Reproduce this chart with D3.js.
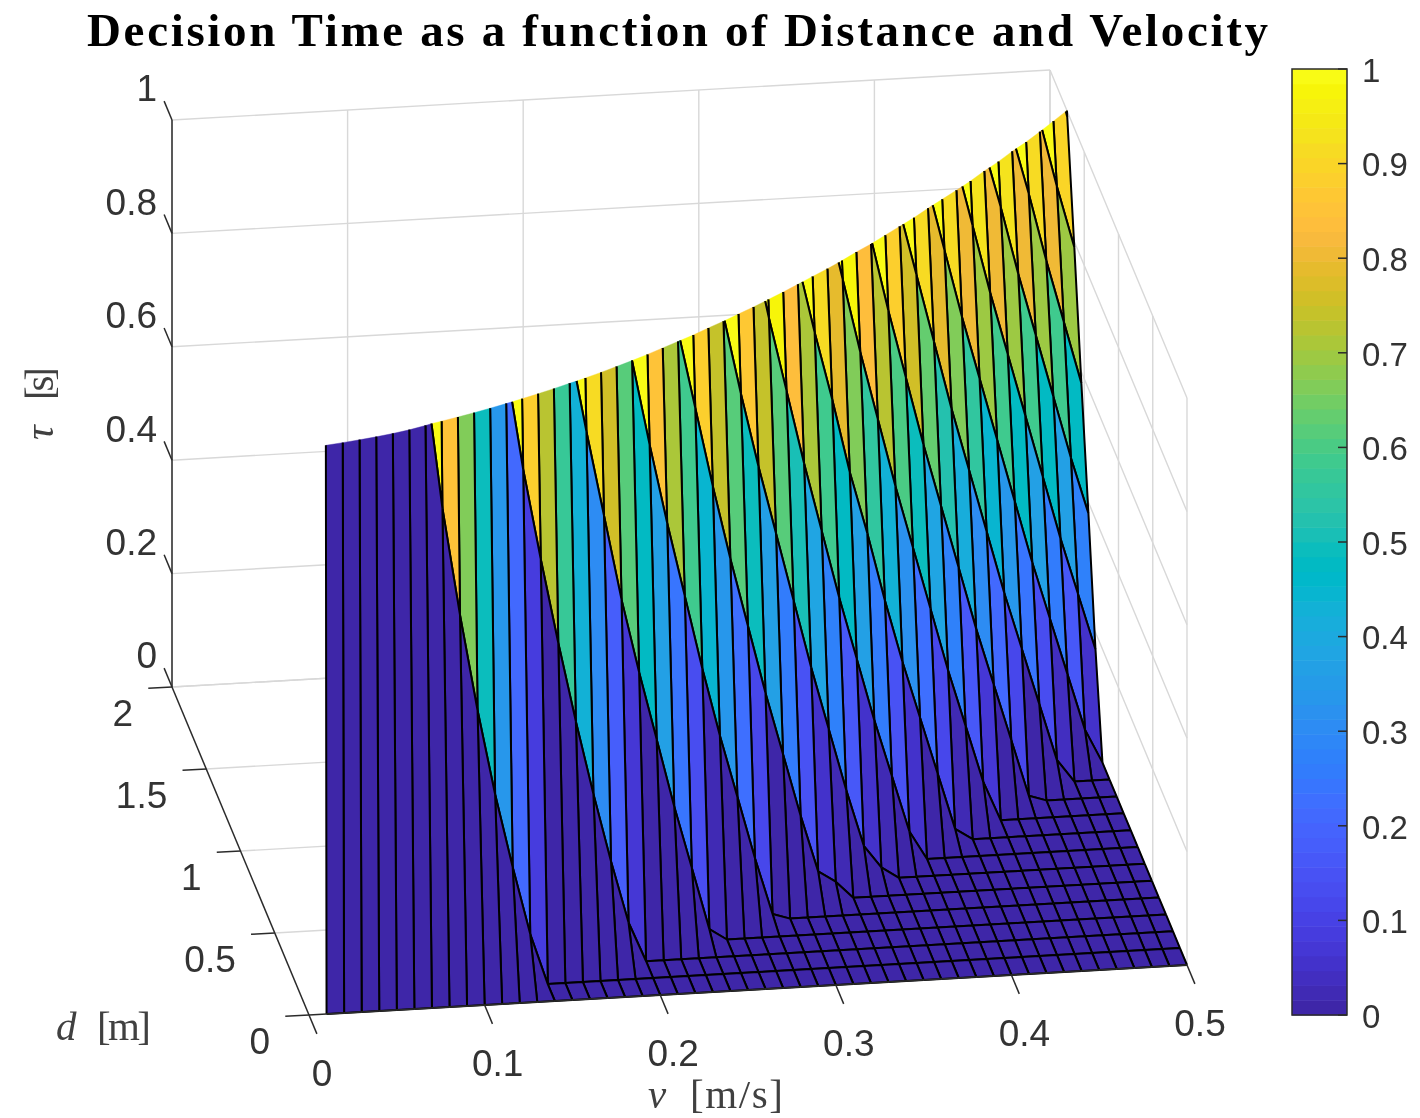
<!DOCTYPE html>
<html>
<head>
<meta charset="utf-8">
<script src="https://cdn.jsdelivr.net/npm/d3@7"></script>
<style>
html,body{margin:0;padding:0;background:#fff;}
svg{display:block;filter:blur(0.55px);}
text{font-family:"Liberation Sans",Arial,sans-serif;fill:#333;}
.serif{font-family:"Liberation Serif",serif;}
</style>
</head>
<body>
<svg id="chart" width="1420" height="1118"></svg>
<script>
const titleText = "Decision Time as a function of Distance and Velocity";
const velocities = d3.range(1, 51).map(i => i / 100);
const distances = [0,.103,.206,.308,.411,.514,.617,.72,.822,.925,1.028,1.131,1.234,1.336,1.439,1.542,1.645,1.748,1.85];
const vTicks = [0, 0.1, 0.2, 0.3, 0.4, 0.5];
const dTicks = [0, 0.5, 1, 1.5, 2];
const tauTicks = [0, 0.2, 0.4, 0.6, 0.8, 1];
const barTicks = [0, 0.1, 0.2, 0.3, 0.4, 0.5, 0.6, 0.7, 0.8, 0.9, 1];

// tau [s], one list per velocity, one entry per distance row (rows fully above tau = 1 are left out)
const tauByVelocity = [
[0,10.2],[0,5.03],[0,3.26],[0,2.35],[0,1.78],[0,1.39],
[0,1.09,2.56],[0,.85,2.14],[0,.66,1.8],[0,.49,1.52],[0,.34,1.28],
[0,.21,1.07,1.92],[0,.09,.88,1.67],[0,0,.72,1.45],[0,0,.57,1.25],
[0,0,.43,1.07,1.72],[0,0,.3,.91,1.51],[0,0,.18,.76,1.33],[0,0,.07,.61,1.16],
[0,0,0,.48,1,1.51],[0,0,0,.36,.85,1.34],[0,0,0,.24,.71,1.17],
[0,0,0,.13,.58,1.02,1.47],[0,0,0,.02,.45,.88,1.31],[0,0,0,0,.33,.74,1.15],
[0,0,0,0,.22,.61,1.01,1.41],[0,0,0,0,.11,.49,.87,1.25],
[0,0,0,0,.01,.37,.74,1.11,1.48],[0,0,0,0,0,.26,.62,.97,1.32],[0,0,0,0,0,.15,.5,.84,1.18],
[0,0,0,0,0,.05,.38,.71,1.04,1.38],[0,0,0,0,0,.03,.27,.59,.91,1.23],
[0,0,0,0,0,0,.16,.47,.79,1.1,1.41],[0,0,0,0,0,0,.06,.36,.66,.97,1.27],
[0,0,0,0,0,0,.02,.25,.55,.84,1.13],[0,0,0,0,0,0,0,.15,.43,.72,1.01,1.29],
[0,0,0,0,0,0,0,.05,.32,.6,.88,1.16],[0,0,0,0,0,0,0,0,.22,.49,.76,1.03,1.3],
[0,0,0,0,0,0,0,0,.12,.38,.64,.91,1.17],
[0,0,0,0,0,0,0,0,.02,.27,.53,.79,1.04,1.3],
[0,0,0,0,0,0,0,0,0,.17,.42,.67,.92,1.17],[0,0,0,0,0,0,0,0,0,.07,.31,.56,.8,1.05,1.29],
[0,0,0,0,0,0,0,0,0,0,.21,.45,.69,.93,1.17],[0,0,0,0,0,0,0,0,0,0,.11,.34,.58,.81,1.04,1.28],
[0,0,0,0,0,0,0,0,0,0,.01,.24,.47,.7,.93,1.15],[0,0,0,0,0,0,0,0,0,0,0,.14,.36,.59,.81,1.03,1.26],
[0,0,0,0,0,0,0,0,0,0,0,.04,.26,.48,.7,.92,1.14],[0,0,0,0,0,0,0,0,0,0,0,0,.16,.37,.59,.8,1.02,1.23],
[0,0,0,0,0,0,0,0,0,0,0,0,.06,.27,.48,.69,.9,1.11,1.32],[0,0,0,0,0,0,0,0,0,0,0,0,0,.17,.38,.58,.79,.99,1.2]
];

const parula = [
[.2422,.1504,.6603],[.2504,.165,.7076],[.2578,.1818,.7511],[.2647,.1978,.7952],
[.2706,.2147,.8364],[.2751,.2342,.871],[.2783,.2559,.8991],[.2803,.2782,.9221],
[.2813,.3006,.9414],[.281,.3228,.9579],[.2795,.3447,.9717],[.276,.3667,.9829],
[.2699,.3892,.9906],[.2602,.4123,.9952],[.244,.4358,.9988],[.2206,.4603,.9973],
[.1963,.4847,.9892],[.1834,.5074,.9798],[.1786,.5289,.9682],[.1764,.5499,.952],
[.1687,.5703,.9359],[.154,.5902,.9218],[.146,.6091,.9079],[.138,.6276,.8973],
[.1248,.6459,.8883],[.1113,.6635,.8763],[.0952,.6798,.8598],[.0689,.6948,.8394],
[.0297,.7082,.8163],[.0036,.7203,.7917],[.0067,.7312,.766],[.0433,.7411,.7394],
[.0964,.75,.712],[.1408,.7584,.6842],[.1717,.767,.6554],[.1938,.7758,.6251],
[.2161,.7843,.5923],[.247,.7918,.5567],[.2906,.7973,.5188],[.3406,.8008,.4789],
[.3909,.8029,.4354],[.4456,.8024,.3909],[.5044,.7993,.348],[.5616,.7942,.3045],
[.6174,.7876,.2612],[.672,.7793,.2227],[.7242,.7698,.191],[.7738,.7598,.1646],
[.8203,.7498,.1535],[.8634,.7406,.1596],[.9035,.733,.1774],[.9393,.7288,.21],
[.9728,.7298,.2394],[.9956,.7434,.2371],[.997,.7659,.2199],[.9952,.7861,.1998],
[.9892,.8105,.1761],[.9786,.8353,.1539],[.9676,.8606,.1382],[.961,.889,.1154],
[.9597,.9135,.0823],[.9628,.9373,.069],[.9691,.9606,.035],[.9769,.9839,.0805]
].map(c => d3.rgb(c[0] * 255, c[1] * 255, c[2] * 255).formatHex());

const svg = d3.select("#chart");
const ORIGIN = [309, 1015];
const vx = d3.scaleLinear([0, 0.5], [0, 878]);
const vy = d3.scaleLinear([0, 0.5], [0, -50]);
const dx = d3.scaleLinear([0, 2], [0, -137]);
const dy = d3.scaleLinear([0, 2], [0, -328]);
const zy = d3.scaleLinear([0, 1], [0, -567]);
const color = d3.scaleQuantize([0, 1], parula);
const project = (v, d, z) => [ORIGIN[0] + vx(v) + dx(d), ORIGIN[1] + vy(v) + dy(d) + zy(z)];
const line = d3.line();
const vMax = 0.5, dMax = 2, zMax = 1;

function seg(a, b, cls) {
  svg.append("path").attr("d", line([project(...a), project(...b)]))
    .attr("fill", "none").attr("stroke", cls === "grid" ? "#d8d8d8" : "#2b2b2b")
    .attr("stroke-width", cls === "grid" ? 1.4 : 1.5);
}

// back grid
vTicks.forEach(v => {
  if (v > 0) seg([v, 0, 0], [v, dMax, 0], "grid");
  seg([v, dMax, 0], [v, dMax, zMax], "grid");
});
dTicks.forEach(d => {
  if (d > 0) seg([0, d, 0], [vMax, d, 0], "grid");
  seg([vMax, d, 0], [vMax, d, zMax], "grid");
});
tauTicks.forEach(z => {
  seg([0, dMax, z], [vMax, dMax, z], "grid");
  seg([vMax, dMax, z], [vMax, 0, z], "grid");
});

// clipping at the tau = 1 limit
function cross(a, b) {
  const t = (zMax - a[2]) / (b[2] - a[2]);
  return [a[0] + t * (b[0] - a[0]), a[1] + t * (b[1] - a[1]), zMax];
}
function clipPolygon(pts) {
  const out = [];
  pts.forEach((p, i) => {
    const q = pts[(i + 1) % pts.length];
    const pIn = p[2] <= zMax, qIn = q[2] <= zMax;
    if (pIn) out.push(p);
    if (pIn !== qIn) out.push(cross(p, q));
  });
  return out;
}
function clipEdge(a, b) {
  const aIn = a[2] <= zMax, bIn = b[2] <= zMax;
  if (aIn && bIn) return [a, b];
  if (!aIn && !bIn) return null;
  return aIn ? [a, cross(a, b)] : [cross(a, b), b];
}

// surface, drawn from the far corner to the near corner
const surface = svg.append("g");
for (let i = distances.length - 2; i >= 0; i--) {
  for (let j = velocities.length - 2; j >= 0; j--) {
    const c = tauByVelocity[j], n = tauByVelocity[j + 1];
    if (c[i] === undefined || c[i + 1] === undefined || n[i] === undefined || n[i + 1] === undefined) continue;
    const corners = [
      [velocities[j], distances[i], c[i]],
      [velocities[j + 1], distances[i], n[i]],
      [velocities[j + 1], distances[i + 1], n[i + 1]],
      [velocities[j], distances[i + 1], c[i + 1]]
    ];
    const poly = clipPolygon(corners);
    if (poly.length < 3) continue;
    const fill = color(Math.min(c[i], 0.9999));
    surface.append("path")
      .attr("d", line(poly.map(p => project(...p))) + "Z")
      .attr("fill", fill).attr("stroke", fill).attr("stroke-width", 0.4);
    const edges = corners.map((p, k) => clipEdge(p, corners[(k + 1) % 4])).filter(Boolean);
    surface.append("path")
      .attr("d", edges.map(e => line(e.map(p => project(...p)))).join(""))
      .attr("fill", "none").attr("stroke", "#000").attr("stroke-width", 2);
  }
}

// axes
seg([0, dMax, 0], [0, dMax, zMax], "axis");
seg([0, dMax, 0], [0, 0, 0], "axis");
seg([0, 0, 0], [vMax, 0, 0], "axis");
const tickSize = 0.115;
const TICK_FONT = 37;
function label(x, y, s, anchor) {
  svg.append("text").attr("x", x).attr("y", y).attr("dy", "0.36em")
    .attr("text-anchor", anchor).attr("font-size", TICK_FONT).text(s);
}
tauTicks.forEach(z => {
  seg([0, dMax, z], [0, dMax + tickSize, z], "axis");
  const p = project(0, dMax, z);
  label(p[0] - 15, p[1] - 32, String(z), "end");
});
dTicks.forEach(d => {
  seg([0, d, 0], [-0.0135, d, 0], "axis");
  const p = project(0, d, 0);
  label(p[0] - 39, p[1] + 26, String(d), "end");
});
vTicks.forEach(v => {
  seg([v, 0, 0], [v, -tickSize, 0], "axis");
  const p = project(v, 0, 0);
  label(p[0] + 13, p[1] + 58, String(v), "middle");
});

// colour bar
const BAR = {x: 1292, w: 55, top: 69, bottom: 1015};
const barY = d3.scaleLinear([0, 1], [BAR.bottom, BAR.top]);
parula.forEach((c, i) => {
  const lo = i / parula.length, hi = (i + 1) / parula.length;
  svg.append("rect").attr("x", BAR.x).attr("width", BAR.w)
    .attr("y", barY(hi)).attr("height", barY(lo) - barY(hi) + 0.5).attr("fill", c);
});
svg.append("rect").attr("x", BAR.x).attr("y", BAR.top).attr("width", BAR.w)
  .attr("height", BAR.bottom - BAR.top).attr("fill", "none").attr("stroke", "#2b2b2b").attr("stroke-width", 1.5);
barTicks.forEach(t => {
  svg.append("line").attr("x1", BAR.x + BAR.w - 9).attr("x2", BAR.x + BAR.w)
    .attr("y1", barY(t)).attr("y2", barY(t)).attr("stroke", "#2b2b2b").attr("stroke-width", 1.5);
  svg.append("text").attr("x", BAR.x + BAR.w + 15).attr("y", barY(t) + 1).attr("dy", "0.36em")
    .attr("font-size", 33).text(String(t));
});

// title and axis labels
svg.append("text").attr("class", "serif").attr("x", 87).attr("y", 46)
  .attr("font-size", 47).attr("font-weight", "bold").style("fill", "#000")
  .attr("textLength", 1181).attr("lengthAdjust", "spacing").text(titleText);

function mathLabel(x, y, sym, gapStart, unit, unitLen, rotate) {
  const g = svg.append("g").attr("transform", `translate(${x},${y})` + (rotate ? " rotate(-90)" : ""));
  g.append("text").attr("class", "serif").attr("font-size", 41).attr("font-style", "italic")
    .style("fill", "#404040").text(sym);
  g.append("text").attr("class", "serif").attr("font-size", 41).attr("x", gapStart)
    .attr("textLength", unitLen).attr("lengthAdjust", "spacing")
    .style("fill", "#404040").text(unit);
}
mathLabel(56, 1040, "d", 41, "[m]", 54);
mathLabel(648, 1108, "v", 42, "[m/s]", 93);
mathLabel(53, 440, "τ", 40, "[s]", 33, true);
</script>
</body>
</html>
